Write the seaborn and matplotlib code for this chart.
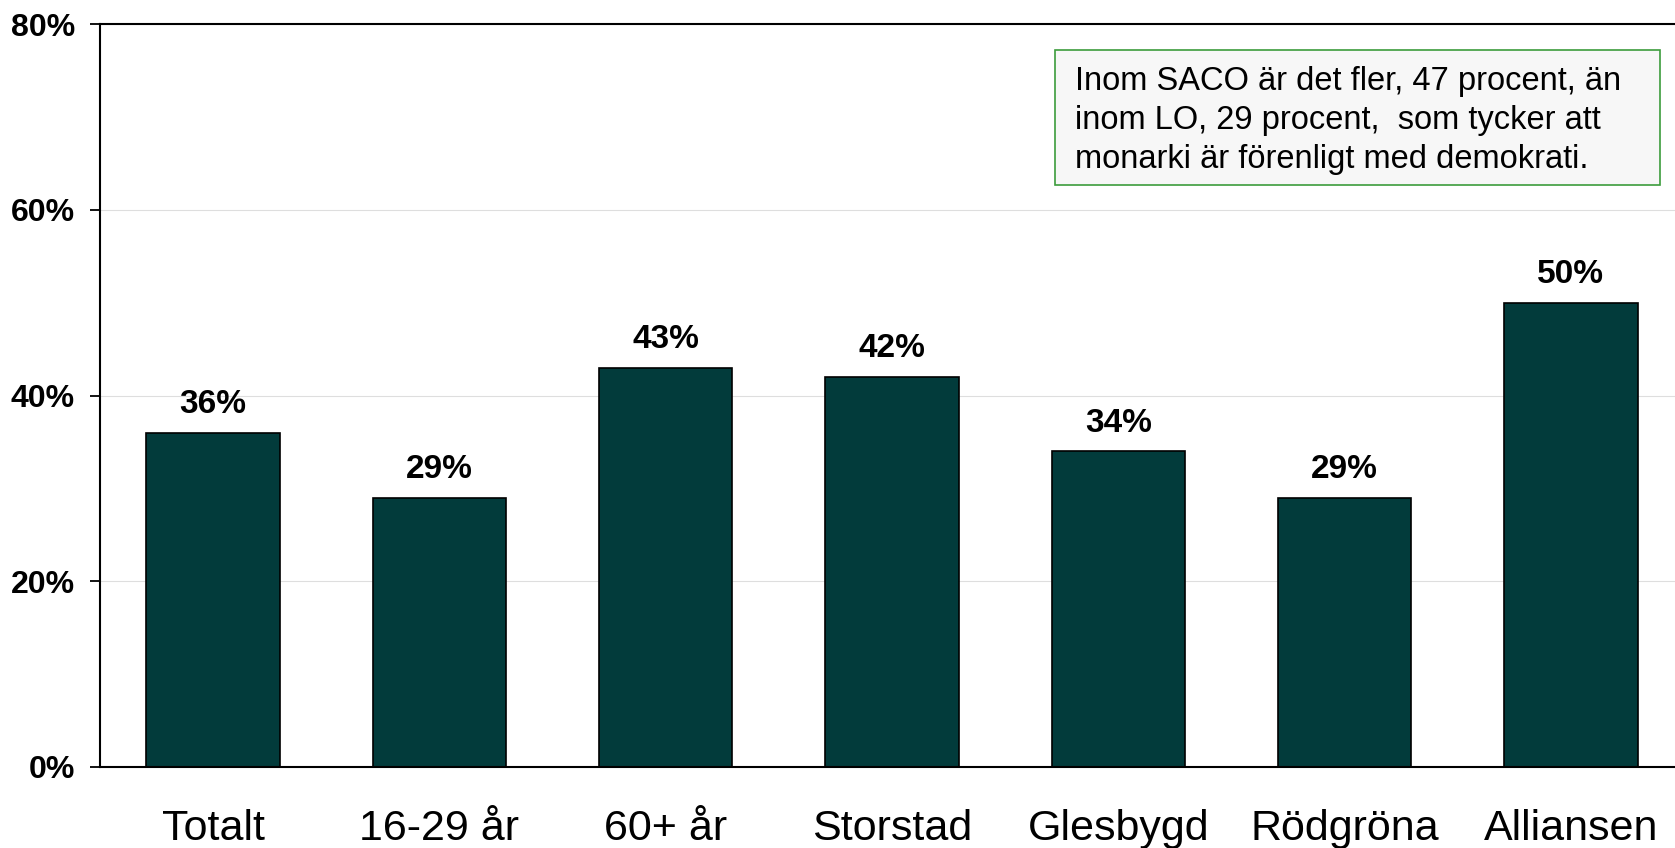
import numpy as np
import matplotlib
matplotlib.use("Agg")
import matplotlib.pyplot as plt
import matplotlib.patches as mpatches
import seaborn as sns

# data
categories = ["Totalt", "16-29 år", "60+ år", "Storstad", "Glesbygd", "Rödgröna", "Alliansen"]
values = [36, 29, 43, 42, 34, 29, 50]
y_ticks = [0, 20, 40, 60, 80]
note = ("Inom SACO är det fler, 47 procent, än\n"
        "inom LO, 29 procent,  som tycker att\n"
        "monarki är förenligt med demokrati.")

sns.set_style("white")
plt.rcParams['font.family'] = ['Liberation Sans', 'DejaVu Sans']
plt.rcParams['text.color'] = "black"
plt.rcParams['xtick.color'] = "black"
plt.rcParams['ytick.color'] = "black"

W, H = 1675, 848
fig = plt.figure(figsize=(W / 100, H / 100), dpi=100)
ax = fig.add_axes([100 / W, (H - 767) / H, 1584 / W, (767 - 24) / H])

sns.barplot(x=categories, y=values, color="#023b3b", saturation=1,
            width=0.59, edgecolor="black", linewidth=1.2, ax=ax)

ax.set_xlim(-0.5, 6.5)
ax.set_ylim(0, 80)
ax.set_yticks(y_ticks)
ax.set_yticklabels([f"{v}%" for v in y_ticks], fontsize=23, fontweight="bold")
ax.yaxis.grid(True, color="#dedede", linewidth=0.8)
ax.set_axisbelow(True)

# category ticks sit between the bars
ax.set_xticks(np.arange(-0.5, 7, 1), minor=True)
ax.tick_params(axis="x", which="major", length=0, pad=30, labelsize=31)
ax.tick_params(axis="x", which="minor", length=9, width=1.3, color="black", direction="out")
ax.tick_params(axis="y", length=7, width=1.3, color="black", direction="out", pad=11, left=True)
ax.set_xlabel("")
ax.set_ylabel("")

for side in ["left", "bottom", "top"]:
    ax.spines[side].set_visible(True)
    ax.spines[side].set_color("black")
    ax.spines[side].set_linewidth(1.5)
ax.spines["right"].set_visible(False)

ax.bar_label(ax.containers[0], labels=[f"{v}%" for v in values],
             padding=9, fontsize=24, fontweight="bold", color="black")

# note box in the top right corner
box = mpatches.Rectangle((1055 / W, 1 - 185 / H), 605 / W, 135 / H,
                         transform=fig.transFigure, facecolor="#f7f7f7",
                         edgecolor="#3c9c3c", linewidth=1.2, zorder=5)
fig.add_artist(box)
fig.text(1075 / W, 1 - 66 / H, note, fontsize=23.5, va="top", ha="left",
         linespacing=1.33, color="black", zorder=6)

fig.savefig("out.png", dpi=100)
